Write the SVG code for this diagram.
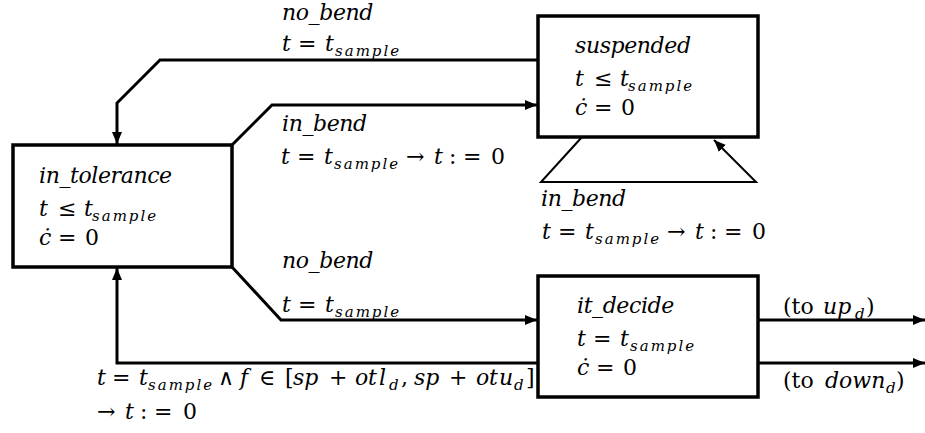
<svg xmlns="http://www.w3.org/2000/svg" width="925" height="433" viewBox="0 0 925 433">
<style>
text{font-family:'DejaVu Serif','Liberation Serif',serif;font-size:22px;fill:#000}
.i{font-style:italic}
.w{font-style:italic;letter-spacing:-0.4px}
.s{font-style:italic;font-size:15px;letter-spacing:2px}
.box{fill:#fff;stroke:#000;stroke-width:3.5}
.c{fill:none;stroke:#000;stroke-width:3}
.t{fill:none;stroke:#000;stroke-width:2}
</style>
<defs>
<marker id="ah" viewBox="0 0 12 10" refX="12" refY="5" markerWidth="12" markerHeight="10" markerUnits="userSpaceOnUse" orient="auto">
<path d="M0,0 L12,5 L0,10 z" fill="#000"/>
</marker>
</defs>
<g id="connectors">
<path class="c" d="M537,60 H160 L117,103 V144" marker-end="url(#ah)"/>
<path class="c" d="M232,145 L272,105 H537" marker-end="url(#ah)"/>
<path class="t" d="M582,137 L541,182 H756 L714,140" marker-end="url(#ah)"/>
<path class="c" d="M232,267 L281,320 H537" marker-end="url(#ah)"/>
<path class="c" d="M537,363 H117 V268" marker-end="url(#ah)"/>
<path class="c" d="M758,320 H925" marker-end="url(#ah)"/>
<path class="c" d="M758,363 H925" marker-end="url(#ah)"/>
</g>
<g id="labels">
<text x="282" y="20" class="w">no_bend</text>
<text y="51"><tspan x="282" class="i">t</tspan><tspan x="298">=</tspan><tspan x="325" class="i">t</tspan><tspan x="335" y="56" class="s">sample</tspan></text>
<text x="282" y="131" class="w">in_bend</text>
<text y="164"><tspan x="281" class="i">t</tspan><tspan x="297">=</tspan><tspan x="324" class="i">t</tspan><tspan x="334" y="169" class="s">sample</tspan><tspan x="406" y="164">→</tspan><tspan x="434" class="i">t</tspan><tspan x="449">:</tspan><tspan x="463">=</tspan><tspan x="491">0</tspan></text>
<text x="541" y="206" class="w">in_bend</text>
<text y="239"><tspan x="542" class="i">t</tspan><tspan x="558">=</tspan><tspan x="585" class="i">t</tspan><tspan x="595" y="244" class="s">sample</tspan><tspan x="667" y="239">→</tspan><tspan x="695" class="i">t</tspan><tspan x="710">:</tspan><tspan x="724">=</tspan><tspan x="752">0</tspan></text>
<text x="282" y="268" class="w">no_bend</text>
<text y="312"><tspan x="282" class="i">t</tspan><tspan x="298">=</tspan><tspan x="325" class="i">t</tspan><tspan x="335" y="317" class="s">sample</tspan></text>
<text y="314"><tspan x="783">(to</tspan><tspan x="823" class="i">up</tspan><tspan x="855" y="319" class="s">d</tspan><tspan x="866" y="314">)</tspan></text>
<text y="388"><tspan x="783">(to</tspan><tspan x="825" class="i">down</tspan><tspan x="886" y="393" class="s">d</tspan><tspan x="896" y="388">)</tspan></text>
<text y="385"><tspan x="97" class="i">t</tspan><tspan x="112">=</tspan><tspan x="139" class="i">t</tspan><tspan x="148" y="390" class="s">sample</tspan><tspan x="218" y="385">∧</tspan><tspan x="240" class="i">f</tspan><tspan x="259">∈</tspan><tspan x="285">[</tspan><tspan x="293" class="i">sp</tspan><tspan x="329">+</tspan><tspan x="355 368 379" class="i">otl</tspan><tspan x="389" y="390" class="s">d</tspan><tspan x="401" y="385">,</tspan><tspan x="414" class="i">sp</tspan><tspan x="449">+</tspan><tspan x="476 489 499" class="i">otu</tspan><tspan x="514" y="390" class="s">d</tspan><tspan x="526" y="385">]</tspan></text>
<text y="419"><tspan x="97">→</tspan><tspan x="125" class="i">t</tspan><tspan x="140">:</tspan><tspan x="154">=</tspan><tspan x="183">0</tspan></text>
</g>
<g id="in_tolerance">
<rect class="box" x="13" y="145" width="219" height="122"/>
<text x="39" y="183" class="w">in_tolerance</text>
<text y="216"><tspan x="39" class="i">t</tspan><tspan x="58">≤</tspan><tspan x="84" class="i">t</tspan><tspan x="92" y="221" class="s">sample</tspan></text>
<text y="245"><tspan x="39" class="i">ċ</tspan><tspan x="58">=</tspan><tspan x="85">0</tspan></text>
</g>
<g id="suspended">
<rect class="box" x="538" y="16" width="220" height="121"/>
<text x="575" y="53" class="w">suspended</text>
<text y="86"><tspan x="575" class="i">t</tspan><tspan x="594">≤</tspan><tspan x="620" class="i">t</tspan><tspan x="628" y="91" class="s">sample</tspan></text>
<text y="115"><tspan x="575" class="i">ċ</tspan><tspan x="594">=</tspan><tspan x="621">0</tspan></text>
</g>
<g id="it_decide">
<rect class="box" x="538" y="276" width="220" height="121"/>
<text x="577" y="313" class="w">it_decide</text>
<text y="346"><tspan x="577" class="i">t</tspan><tspan x="593">=</tspan><tspan x="620" class="i">t</tspan><tspan x="630" y="351" class="s">sample</tspan></text>
<text y="375"><tspan x="577" class="i">ċ</tspan><tspan x="596">=</tspan><tspan x="623">0</tspan></text>
</g>
</svg>
